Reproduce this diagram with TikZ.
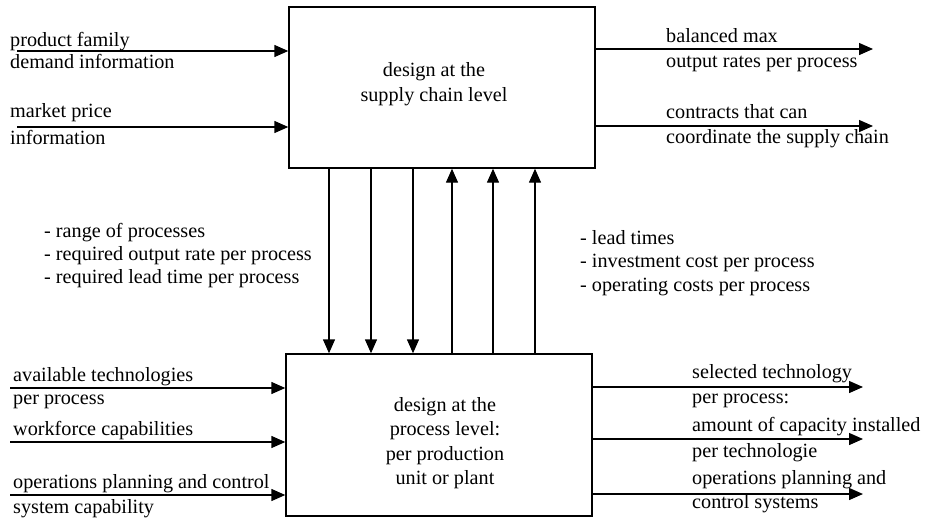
\documentclass[tikz,border=0pt]{standalone}
\usepackage{fontspec}
\setmainfont{Liberation Serif}
\usetikzlibrary{arrows.meta}
\begin{document}
\begin{tikzpicture}[x=1pt,y=-1pt,
  every node/.style={font=\fontsize{20.2}{24.5}\selectfont, inner sep=0pt},
  levelbox/.style={draw, line width=1.4pt, minimum width=306pt, inner sep=0pt},
  boxtext/.style={align=center},
  lbl/.style={anchor=base west, align=left},
  arr/.style={line width=1.4pt, -{Triangle[length=14pt,width=12pt]}}]
\useasboundingbox (0,0) rectangle (927,520);

% the two design levels
\node[levelbox, minimum height=161pt] (sc) at (442,87.5) {};
\node[levelbox, minimum height=162pt] (pl) at (439,435) {};
\node[boxtext] (sctext) at (434,84) {design at the\\supply chain level};
\node[boxtext] (pltext) at (445,443) {design at the\\process level:\\per production\\unit or plant};

% inputs to the supply chain level
\coordinate (a1) at (17,51);
\coordinate (a2) at (17,127);
\draw[arr] (a1) -- (a1 -| sc.west);
\draw[arr] (a2) -- (a2 -| sc.west);
\node[lbl] (ta1) at (10,46) {product family};
\node[lbl] (tb1) at (10,68) {demand information};
\node[lbl] (ta2) at (10,117) {market price};
\node[lbl] (tb2) at (10,144) {information};

% outputs of the supply chain level
\coordinate (b1) at (873,49);
\coordinate (b2) at (873,126);
\draw[arr] (b1 -| sc.east) -- (b1);
\draw[arr] (b2 -| sc.east) -- (b2);
\node[lbl] (tc1) at (666,42) {balanced max};
\node[lbl] (td1) at (666,67) {output rates per process};
\node[lbl] (tc2) at (666,118) {contracts that can};
\node[lbl] (td2) at (666,143) {coordinate the supply chain};

% exchanges between the two levels
\foreach \n/\x in {1/329,2/371,3/413} {
  \coordinate (dn\n) at (\x,0);
  \draw[arr] (dn\n |- sc.south) -- (dn\n |- pl.north);
}
\foreach \n/\x in {1/452,2/493,3/535} {
  \coordinate (up\n) at (\x,0);
  \draw[arr] (up\n |- pl.north) -- (up\n |- sc.south);
}
\node[lbl] (m1) at (44,237) {- range of processes};
\node[lbl] (m2) at (44,260) {- required output rate per process};
\node[lbl] (m3) at (44,283) {- required lead time per process};
\node[lbl] (n1) at (580,244) {- lead times};
\node[lbl] (n2) at (580,267) {- investment cost per process};
\node[lbl] (n3) at (580,291) {- operating costs per process};

% inputs to the process level
\coordinate (c1) at (10,388);
\coordinate (c2) at (10,442);
\coordinate (c3) at (10,495);
\draw[arr] (c1) -- (c1 -| pl.west);
\draw[arr] (c2) -- (c2 -| pl.west);
\draw[arr] (c3) -- (c3 -| pl.west);
\node[lbl] (te1) at (13,381) {available technologies};
\node[lbl] (tf1) at (13,404) {per process};
\node[lbl] (te2) at (13,435) {workforce capabilities};
\node[lbl] (te3) at (13,488) {operations planning and control};
\node[lbl] (tf3) at (13,513) {system capability};

% outputs of the process level
\coordinate (e1) at (863,387);
\coordinate (e2) at (863,439);
\coordinate (e3) at (863,494);
\draw[arr] (e1 -| pl.east) -- (e1);
\draw[arr] (e2 -| pl.east) -- (e2);
\draw[arr] (e3 -| pl.east) -- (e3);
\node[lbl] (tg1) at (692,378) {selected technology};
\node[lbl] (th1) at (692,403) {per process:};
\node[lbl] (tg2) at (692,431) {amount of capacity installed};
\node[lbl] (th2) at (692,457) {per technologie};
\node[lbl] (tg3) at (692,484) {operations planning and};
\node[lbl] (th3) at (692,508) {control systems};
\end{tikzpicture}
\end{document}
